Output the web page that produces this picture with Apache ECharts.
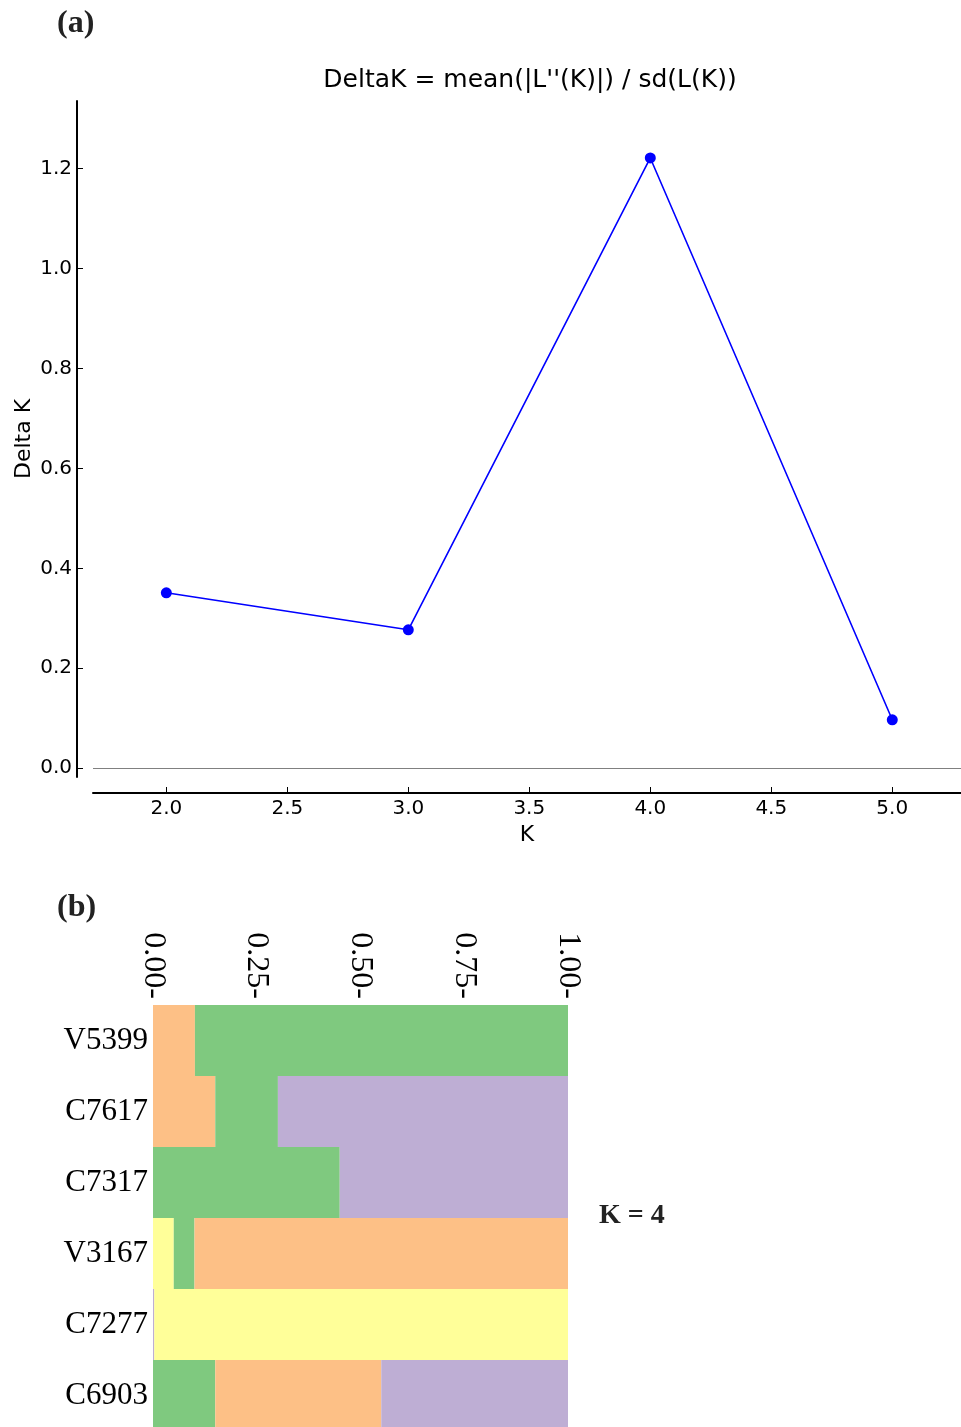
<!DOCTYPE html>
<html><head><meta charset="utf-8">
<script src="https://cdn.jsdelivr.net/npm/echarts@6/dist/echarts.min.js"></script>
<style>html,body{margin:0;padding:0;background:#fff}#c{width:961px;height:1427px}</style>
</head><body><div id="c"></div>
<script>
// ---- Panel (a): Evanno DeltaK ----
const kValues = [2, 3, 4, 5];
const deltaK = [0.351, 0.277, 1.221, 0.097];
const kTicks = [2.0, 2.5, 3.0, 3.5, 4.0, 4.5, 5.0];
const deltaTicks = [0.0, 0.2, 0.4, 0.6, 0.8, 1.0, 1.2];

// ---- Panel (b): admixture proportions at K = 4 ----
const samples = ['V5399', 'C7617', 'C7317', 'V3167', 'C7277', 'C6903'];
const qCluster1 = [0.101, 0.150, 0.000, 0.900, 0.000, 0.400];
const qCluster2 = [0.899, 0.151, 0.450, 0.050, 0.000, 0.150];
const qCluster3 = [0.000, 0.699, 0.550, 0.000, 0.003, 0.450];
const qCluster4 = [0.000, 0.000, 0.000, 0.050, 0.997, 0.000];
const drawOrder = [
  ['c1', 'c2'],
  ['c1', 'c2', 'c3'],
  ['c2', 'c3'],
  ['c4', 'c2', 'c1'],
  ['c3', 'c4'],
  ['c2', 'c1', 'c3']
];
const qTicks = [0, 0.25, 0.5, 0.75, 1.0];

const qByCluster = { c1: qCluster1, c2: qCluster2, c3: qCluster3, c4: qCluster4 };
const clusterColors = { c1: '#FDC086', c2: '#7FC97F', c3: '#BEAED4', c4: '#FFFF99' };

const nSlots = Math.max(...drawOrder.map(o => o.length));
const barSeries = [];
for (let i = 0; i < nSlots; i++) {
  barSeries.push({
    type: 'bar', stack: 'q', xAxisIndex: 1, yAxisIndex: 1,
    barWidth: '100%', barCategoryGap: 0,
    data: samples.map((s, r) => {
      const c = drawOrder[r][i];
      if (!c) return { value: 0 };
      return { value: qByCluster[c][r], itemStyle: { color: clusterColors[c] } };
    }),
    itemStyle: { borderWidth: 0 }
  });
}

const sans = 'DejaVu Sans';
const serif = 'Liberation Serif';
const chart = echarts.init(document.getElementById('c'));
chart.setOption({
  animation: false,
  backgroundColor: '#fff',
  grid: [
    { left: 93, top: 101, width: 868, height: 676, outerBoundsMode: 'none', containLabel: false },
    { left: 153, top: 1005, width: 415, height: 426, outerBoundsMode: 'none', containLabel: false }
  ],
  xAxis: [
    {
      type: 'value', gridIndex: 0, min: 1.697, max: 5.284, offset: 16,
      name: 'K', nameLocation: 'middle', nameGap: 31, nameMoveOverlap: false,
      nameTextStyle: { fontFamily: sans, fontSize: 22, color: '#000' },
      axisLine: { show: true, onZero: false, lineStyle: { color: '#000', width: 2 } },
      axisTick: { show: true, inside: true, length: 6, lineStyle: { color: '#000', width: 1 }, customValues: kTicks },
      axisLabel: { customValues: kTicks, formatter: v => v.toFixed(1), fontFamily: sans, fontSize: 20, color: '#000', margin: 6 },
      splitLine: { show: false }
    },
    {
      type: 'value', gridIndex: 1, min: 0, max: 1, interval: 0.25, position: 'top',
      axisLine: { show: false, onZero: false }, axisTick: { show: false }, splitLine: { show: false },
      axisLabel: { rotate: 90, formatter: v => v.toFixed(2) + '-', fontFamily: serif, fontSize: 32, color: '#000', margin: 6,
        showMinLabel: true, showMaxLabel: true }
    }
  ],
  yAxis: [
    {
      type: 'value', gridIndex: 0, min: -0.0175, max: 1.335, offset: 16,
      name: 'Delta K', nameLocation: 'middle', nameGap: 42, nameMoveOverlap: false,
      nameTextStyle: { fontFamily: sans, fontSize: 22, color: '#000' },
      axisLine: { show: true, onZero: false, lineStyle: { color: '#000', width: 2 } },
      axisTick: { show: true, inside: true, length: 6, lineStyle: { color: '#000', width: 1 }, customValues: deltaTicks },
      axisLabel: { customValues: deltaTicks, formatter: v => v.toFixed(1), fontFamily: sans, fontSize: 20, color: '#000', margin: 5 },
      splitLine: { show: false }
    },
    {
      type: 'category', gridIndex: 1, data: samples, inverse: true,
      axisLine: { show: false, onZero: false }, axisTick: { show: false },
      axisLabel: { fontFamily: serif, fontSize: 31, color: '#000', margin: 5 }
    }
  ],
  series: [
    {
      type: 'line', xAxisIndex: 0, yAxisIndex: 0,
      data: kValues.map((k, i) => [k, deltaK[i]]),
      lineStyle: { color: '#0000FF', width: 1.6 },
      itemStyle: { color: '#0000FF' },
      symbol: 'circle', symbolSize: 11, showSymbol: true,
      markLine: {
        silent: true, symbol: 'none', label: { show: false },
        lineStyle: { color: '#808080', width: 1, type: 'solid' },
        data: [{ yAxis: 0 }]
      }
    },
    ...barSeries
  ],
  graphic: [
    { type: 'text', x: 57, y: 24, style: { text: '(a)', font: 'bold 32px "Liberation Serif"', fill: '#222', textAlign: 'left', textVerticalAlign: 'middle', align: 'left', verticalAlign: 'middle' } },
    { type: 'text', x: 57, y: 908, style: { text: '(b)', font: 'bold 32px "Liberation Serif"', fill: '#222', textAlign: 'left', textVerticalAlign: 'middle', align: 'left', verticalAlign: 'middle' } },
    { type: 'text', x: 530, y: 80, style: { text: "DeltaK = mean(|L''(K)|) / sd(L(K))", font: '25px "DejaVu Sans"', fill: '#000', textAlign: 'center', textVerticalAlign: 'middle', align: 'center', verticalAlign: 'middle' } },
    { type: 'text', x: 599, y: 1216, style: { text: 'K = 4', font: 'bold 28px "Liberation Serif"', fill: '#222', textAlign: 'left', textVerticalAlign: 'middle', align: 'left', verticalAlign: 'middle' } }
  ]
});
</script></body></html>
